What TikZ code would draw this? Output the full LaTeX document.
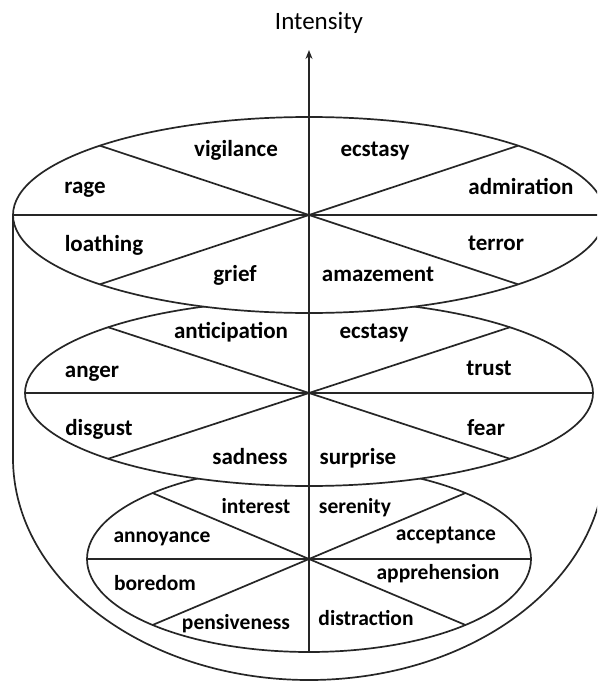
\documentclass[tikz,border=0pt]{standalone}
\usepackage{fontspec}
\setmainfont{Carlito}
\usetikzlibrary{arrows.meta}
\begin{document}
\begin{tikzpicture}[x=1pt,y=-1pt,
  edge/.style={line width=1.7pt, draw=black!85},
  disc/.style={edge, fill=white},
  lab/.style={font=\bfseries\fontsize{23}{23}\selectfont, inner sep=0pt, anchor=mid},
  labs/.style={font=\bfseries\fontsize{21.5}{21.5}\selectfont, inner sep=0pt, anchor=mid},
  title/.style={font=\fontsize{25}{25}\selectfont, inner sep=0pt, anchor=mid}]
\useasboundingbox (0,0) rectangle (597,682);
\clip (0,0) rectangle (597,682);
% outer cylinder outline
\draw[edge] (13,215) -- (13,458) arc[start angle=180, end angle=0, x radius=296, y radius=222] -- (605,215);
% bottom ellipse
\filldraw[disc] (309,559) ellipse [x radius=222, y radius=93];
\draw[edge] (87,559) -- (531,559);
\draw[edge] (153,493.2) -- (465,624.8);
\draw[edge] (153,624.8) -- (465,493.2);
% middle ellipse
\filldraw[disc] (309,393) ellipse [x radius=284, y radius=93];
\draw[edge] (25,393) -- (593,393);
\draw[edge] (108,327.2) -- (510,458.8);
\draw[edge] (108,458.8) -- (510,327.2);
% top ellipse
\filldraw[disc] (309,215) ellipse [x radius=296, y radius=98];
\draw[edge] (13,215) -- (605,215);
\draw[edge] (100,145.7) -- (518,284.3);
\draw[edge] (100,284.3) -- (518,145.7);
% axis
\coordinate (axisbot) at (309,652);
\coordinate (axistip) at (309,50);
\draw[edge, -{Stealth[length=9pt,width=7pt,inset=3pt]}] (axisbot) -- (axistip);
\node[title] (intensity) at (319,27) {Intensity};
% top labels
\node[lab] (vigilance) at (236,154) {vigilance};
\node[lab] (ecstasyA) at (375,154) {ecstasy};
\node[lab] (rage) at (85,191) {rage};
\node[lab] (admiration) at (521,192) {admiration};
\node[lab] (loathing) at (104,249) {loathing};
\node[lab] (terror) at (496,248) {terror};
\node[lab] (grief) at (235,279) {grief};
\node[lab] (amazement) at (378,279) {amazement};
% middle labels
\node[lab] (anticipation) at (231,336) {anticipation};
\node[lab] (ecstasyB) at (374,336) {ecstasy};
\node[lab] (anger) at (92,375) {anger};
\node[lab] (trust) at (489,373) {trust};
\node[lab] (disgust) at (99,433) {disgust};
\node[lab] (fear) at (486,433) {fear};
\node[lab] (sadness) at (250,462) {sadness};
\node[lab] (surprise) at (358,462) {surprise};
% bottom labels
\node[labs] (interest) at (256,511) {interest};
\node[labs] (serenity) at (355,511) {serenity};
\node[labs] (annoyance) at (162,540) {annoyance};
\node[labs] (acceptance) at (446,538) {acceptance};
\node[labs] (boredom) at (155,588) {boredom};
\node[labs] (apprehension) at (438,577) {apprehension};
\node[labs] (pensiveness) at (236,627) {pensiveness};
\node[labs] (distraction) at (366,623) {distraction};
\end{tikzpicture}
\end{document}
